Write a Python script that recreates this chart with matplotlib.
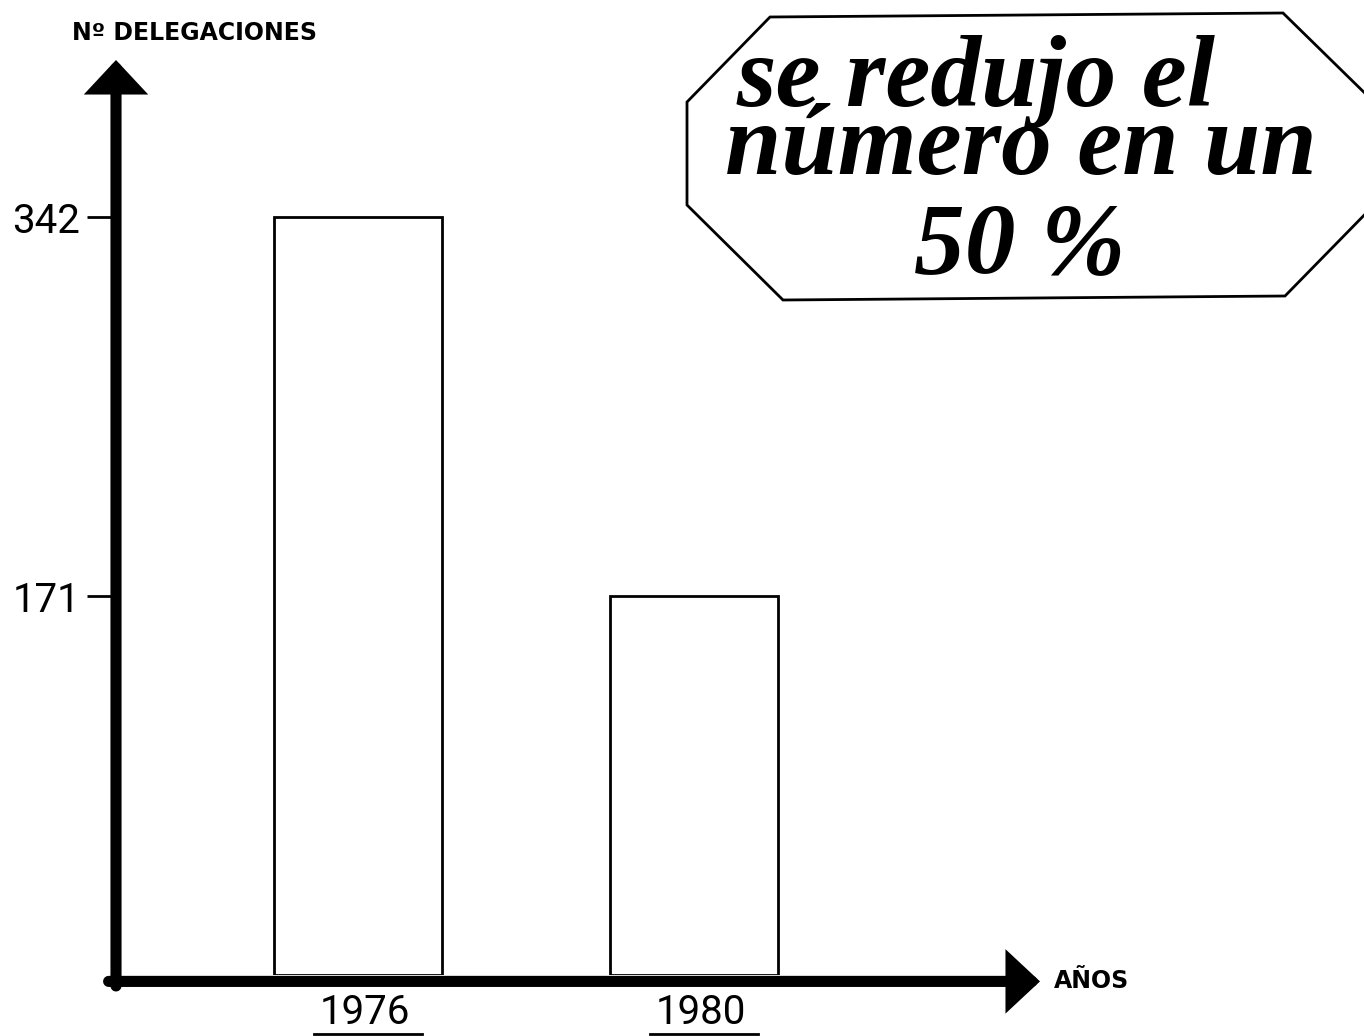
import matplotlib
matplotlib.use("Agg")
import matplotlib.pyplot as plt
import matplotlib.transforms as mtransforms
from matplotlib.patches import Polygon

# data
years = ["1976", "1980"]
delegaciones = [342, 171]
yticks = [171, 342]

W, H = 1364, 1036
fig = plt.figure(figsize=(W / 100, H / 100), dpi=100)

def px(x, y):
    # pixel position (from top-left) -> figure fraction
    return x / W, 1 - y / H

# axes placed so that 0 sits on the x-axis arrow
ax = fig.add_axes([116 / W, 1 - 975 / H, (1040 - 116) / W, (975 - 60) / H])
xpos = [1, 2]
ax.set_xlim(0.28, 3.03)
ax.set_ylim(0, 413)

ax.bar(xpos, delegaciones, width=0.5, color="white", edgecolor="black", linewidth=2, zorder=2)

for s in ax.spines.values():
    s.set_visible(False)

ax.set_yticks(yticks)
ax.set_yticklabels([str(v) for v in yticks], fontsize=29, family="Roboto", fontweight="normal")
ax.tick_params(axis="y", length=21, width=2, pad=5)
ax.set_xticks(xpos)
ax.set_xticklabels(years, fontsize=29, family="Roboto", fontweight="normal")
ax.tick_params(axis="x", length=0, pad=13)

# year labels sit a little right of the bar centres
shift = mtransforms.ScaledTranslation(7 / 100, 0, fig.dpi_scale_trans)
for lab in ax.get_xticklabels():
    lab.set_transform(lab.get_transform() + shift)

# underline the year labels
for x in xpos:
    ax.plot([x - 0.13, x + 0.19], [-0.064, -0.064], color="black", lw=2,
            transform=ax.get_xaxis_transform(), clip_on=False)

# thick axes with arrow heads
arrow = dict(arrowstyle="-|>,head_length=0.75,head_width=0.7", lw=8, color="black",
             shrinkA=0, shrinkB=0, mutation_scale=20, joinstyle="miter")
ax.annotate("", xy=(0, 1), xytext=(0, -0.012), xycoords="axes fraction", arrowprops=arrow, zorder=3)
ax.annotate("", xy=(1, -0.007), xytext=(-0.008, -0.007), xycoords="axes fraction", arrowprops=arrow, zorder=3)

fig.text(*px(72, 33), "Nº DELEGACIONES", fontsize=17, family="DejaVu Sans", fontweight="bold",
         ha="left", va="center")
fig.text(*px(1054, 981), "AÑOS", fontsize=17, family="DejaVu Sans", fontweight="bold",
         ha="left", va="center")

# octagon label
octo = [(770, 17), (1283, 13), (1378, 106), (1378, 201), (1285, 296),
        (783, 300), (687, 205), (687, 102)]
octo = [px(x, y) for x, y in octo]
fig.patches.append(Polygon(octo, closed=True, transform=fig.transFigure, facecolor="white",
                           edgecolor="black", lw=2, clip_on=False))

lines = [("se redujo el", 976, 106), ("número en un", 1021, 174), ("50 %", 1020, 273)]
for txt, x, y in lines:
    fig.text(*px(x, y), txt, fontsize=73, family="Liberation Serif", fontweight="bold",
             style="italic", ha="center", va="baseline")

fig.savefig("out.png", dpi=100)
